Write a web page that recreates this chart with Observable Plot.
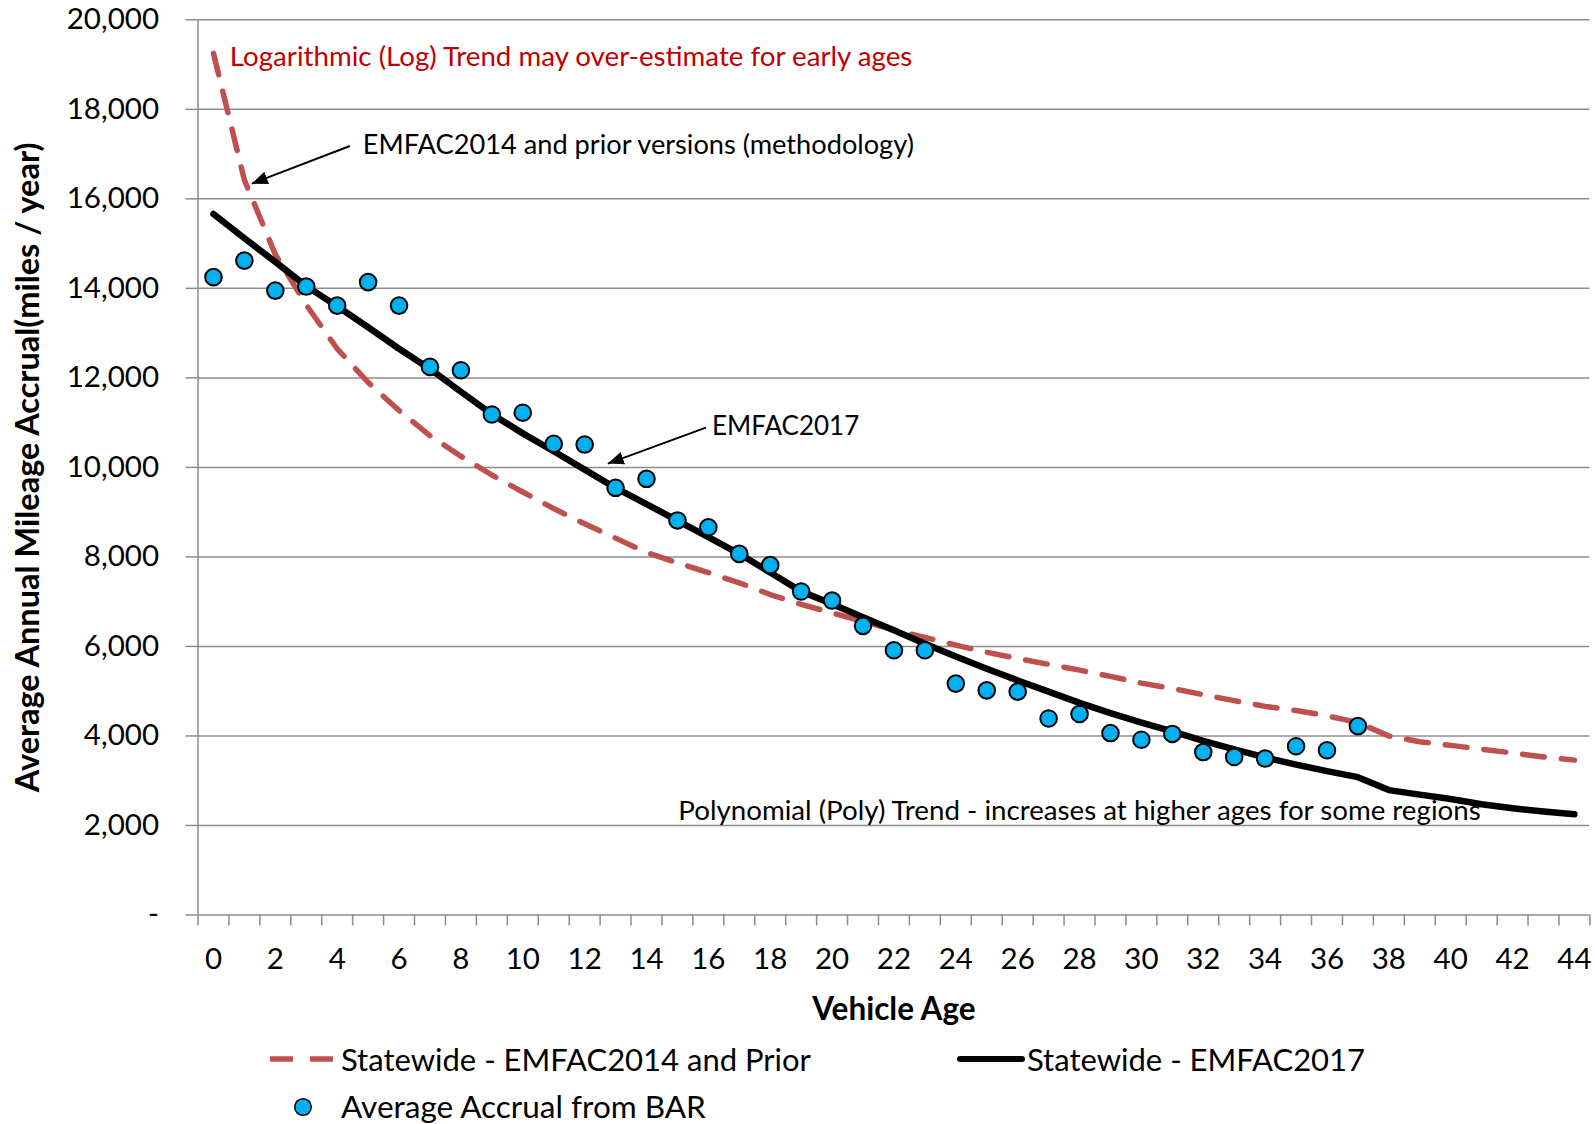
<!DOCTYPE html>
<html>
<head>
<meta charset="utf-8">
<script src="https://cdn.jsdelivr.net/npm/d3@7"></script>
<script src="https://cdn.jsdelivr.net/npm/@observablehq/plot@0.6"></script>
<style>
  html, body { margin: 0; padding: 0; background: #fff; }
  #wrap { position: relative; width: 1595px; height: 1124px; overflow: hidden; font-family: Lato, "Open Sans", sans-serif; }
  #chart svg { display: block; }
  .leg { position: absolute; transform: translateY(-50%); font-size: 31px; color: #000; white-space: nowrap; line-height: 1; }
  .sw { position: absolute; transform: translateY(-50%); }
</style>
</head>
<body>
<div id="wrap">
  <div id="chart"></div>
  <div id="legend"></div>
</div>
<script>
// ---------------- DATA ----------------
const ages = [0,1,2,3,4,5,6,7,8,9,10,11,12,13,14,15,16,17,18,19,20,21,22,23,24,25,26,27,28,29,30,31,32,33,34,35,36,37,38,39,40,41,42,43,44];

// Statewide - EMFAC2014 and Prior (red dashed)
const emfac2014 = [19250,16420,14760,13630,12650,11900,11270,10710,10250,9830,9450,9080,8740,8420,8100,7870,7650,7420,7160,6940,6750,6560,6370,6200,6030,5870,5730,5600,5470,5330,5180,5060,4920,4790,4660,4570,4450,4300,4000,3870,3790,3705,3620,3530,3460];

// Statewide - EMFAC2017 (black)
const emfac2017 = [15660,15120,14590,14050,13600,13130,12650,12200,11690,11190,10760,10360,9950,9540,9180,8810,8440,8070,7650,7230,6950,6650,6360,6060,5775,5500,5240,4990,4740,4510,4300,4100,3890,3700,3520,3360,3215,3080,2790,2690,2590,2475,2385,2310,2250];

// Average Accrual from BAR (blue dots), ages 0..37
const barAges = [0,1,2,3,4,5,6,7,8,9,10,11,12,13,14,15,16,17,18,19,20,21,22,23,24,25,26,27,28,29,30,31,32,33,34,35,36,37];
const barValues = [14250,14620,13950,14040,13615,14140,13615,12245,12170,11182,11222,10525,10510,9544,9745,8815,8662,8068,7816,7227,7025,6460,5915,5915,5170,5018,4990,4390,4490,4065,3915,4045,3640,3530,3495,3770,3680,4220];

// Axis ticks / labels
const yTicks = [0,2000,4000,6000,8000,10000,12000,14000,16000,18000,20000];
const xTickLabels = [0,2,4,6,8,10,12,14,16,18,20,22,24,26,28,30,32,34,36,38,40,42,44];

// Annotations (anchored in data units: age, miles/year)
const noteTexts = [
  "Logarithmic (Log) Trend may over-estimate for early ages",
  "EMFAC2014 and prior versions (methodology)",
  "EMFAC2017",
  "Polynomial (Poly) Trend - increases at higher ages for some regions"
];
const noteAges = [0.53, 4.83, 16.12, 15.03];
const noteValues = [19160, 17200, 10910, 2310];

// Arrows (from -> to, data units)
const arrowFromAge = [4.41, 15.92];
const arrowFromVal = [17180, 10890];
const arrowToAge = [1.24, 12.75];
const arrowToVal = [16340, 10085];

const seriesNames = ["Statewide - EMFAC2014 and Prior", "Statewide - EMFAC2017", "Average Accrual from BAR"];
const xTitle = "Vehicle Age";
const yTitle = "Average Annual Mileage Accrual(miles / year)";

// ---------------- TABLES ----------------
const lineRows = ages.map((a, i) => ({age: a, e14: emfac2014[i], e17: emfac2017[i]}));
const barRows = barAges.map((a, i) => ({age: a, v: barValues[i]}));
const notes = noteTexts.map((t, i) => ({t, x: noteAges[i], y: noteValues[i]}));
const arrows = arrowFromAge.map((a, i) => ({x1: a, y1: arrowFromVal[i], x2: arrowToAge[i], y2: arrowToVal[i]}));

// ---------------- STYLE ----------------
const gridColor = "#8c8c8c";
const red = "#C0504D";
const noteRed = "#C00000";
const blue = "#00B0F0";
const FONT = "Lato, 'Open Sans', sans-serif";
const noteSizes = [27.7, 27.2, 26, 27.7];

const W = 1595, H = 1030;
const mLeft = 197.5, mRight = 5.6, mTop = 19.3, yZero = 914.5;

function filledArrow(color, context) {
  const m = d3.create("svg:marker")
    .attr("viewBox", "-16 -8 17 16")
    .attr("markerWidth", 17)
    .attr("markerHeight", 16)
    .attr("markerUnits", "userSpaceOnUse")
    .attr("orient", "auto")
    .attr("fill", color)
    .attr("stroke", "none");
  m.append("path").attr("d", "M-16,-6.5L0,0L-16,6.5Z");
  return m.node();
}

const boundaries = d3.range(-0.5, 45, 1);
const fmtY = d => d === 0 ? "-" : d3.format(",")(d);

function build(marker) {
  return Plot.plot({
    width: W,
    height: H,
    marginLeft: mLeft,
    marginRight: mRight,
    marginTop: mTop,
    marginBottom: H - yZero,
    style: {fontFamily: FONT, background: "#fff", overflow: "visible"},
    x: {domain: [-0.5, 44.5]},
    y: {domain: [0, 20000]},
    marks: [
      Plot.ruleY(yTicks, {stroke: gridColor, strokeWidth: 1.5}),
      Plot.ruleX([-0.5], {stroke: gridColor, strokeWidth: 1.5}),
      Plot.axisY({ticks: yTicks, tickSize: 12, tickPadding: 27, tickFormat: fmtY, stroke: gridColor, strokeWidth: 1.5, fill: "#000", fontSize: 29.5, label: null}),
      Plot.axisX({ticks: boundaries, tickSize: 11, tickFormat: () => "", stroke: gridColor, strokeWidth: 1.5, label: null}),
      Plot.axisX({ticks: xTickLabels, tickSize: 0, tickPadding: 33, fill: "#000", fontSize: 29.5, label: null}),
      Plot.text([yTitle], {frameAnchor: "left", rotate: -90, dx: -169, textAnchor: "middle", lineAnchor: "middle", fontWeight: "bold", fontSize: 32.5, fill: "#000"}),
      Plot.text([xTitle], {frameAnchor: "bottom", dy: 94.5, textAnchor: "middle", lineAnchor: "middle", fontWeight: "bold", fontSize: 31.5, fill: "#000"}),
      Plot.line(lineRows, {x: "age", y: "e14", stroke: red, strokeWidth: 5.5, strokeDasharray: "22,17", strokeLinejoin: "round"}),
      Plot.line(lineRows, {x: "age", y: "e17", stroke: "#000", strokeWidth: 6.5, strokeLinejoin: "round", strokeLinecap: "round"}),
      Plot.dot(barRows, {x: "age", y: "v", r: 8.3, fill: blue, stroke: "#000", strokeWidth: 2}),
      Plot.link(arrows, {x1: "x1", y1: "y1", x2: "x2", y2: "y2", stroke: "#000", strokeWidth: 2, markerEnd: marker}),
      Plot.text(notes, {x: "x", y: "y", text: "t",
        fill: (d, i) => i === 0 ? noteRed : "#000",
        fontSize: (d, i) => noteSizes[i],
        textAnchor: "start", lineAnchor: "middle"})
    ]
  });
}

let chart;
try { chart = build(filledArrow); } catch (e) { chart = build("arrow"); }
document.getElementById("chart").appendChild(chart);

// ---------------- LEGEND (HTML, below the SVG) ----------------
const legend = document.getElementById("legend");
function addSwatch(left, top, w, h, inner) {
  const d = document.createElement("div");
  d.className = "sw";
  d.style.left = left + "px"; d.style.top = top + "px";
  d.innerHTML = `<svg width="${w}" height="${h}" style="display:block">${inner}</svg>`;
  legend.appendChild(d);
}
function addText(left, top, txt, size) {
  const d = document.createElement("div");
  d.className = "leg";
  d.style.left = left + "px"; d.style.top = top + "px";
  if (size) d.style.fontSize = size + "px";
  d.textContent = txt;
  legend.appendChild(d);
}
addSwatch(268, 1059, 68, 12, `<line x1="2" y1="6" x2="66" y2="6" stroke="${red}" stroke-width="5.5" stroke-dasharray="23,17"/>`);
addText(341, 1059, seriesNames[0]);
addSwatch(956, 1059, 70, 12, `<line x1="4" y1="6" x2="66" y2="6" stroke="#000" stroke-width="6" stroke-linecap="round"/>`);
addText(1027, 1059, seriesNames[1]);
addSwatch(292, 1107, 22, 22, `<circle cx="11" cy="11" r="8.3" fill="${blue}" stroke="#000" stroke-width="1.5"/>`);
addText(341, 1107, seriesNames[2], 31.5);
</script>
</body>
</html>
